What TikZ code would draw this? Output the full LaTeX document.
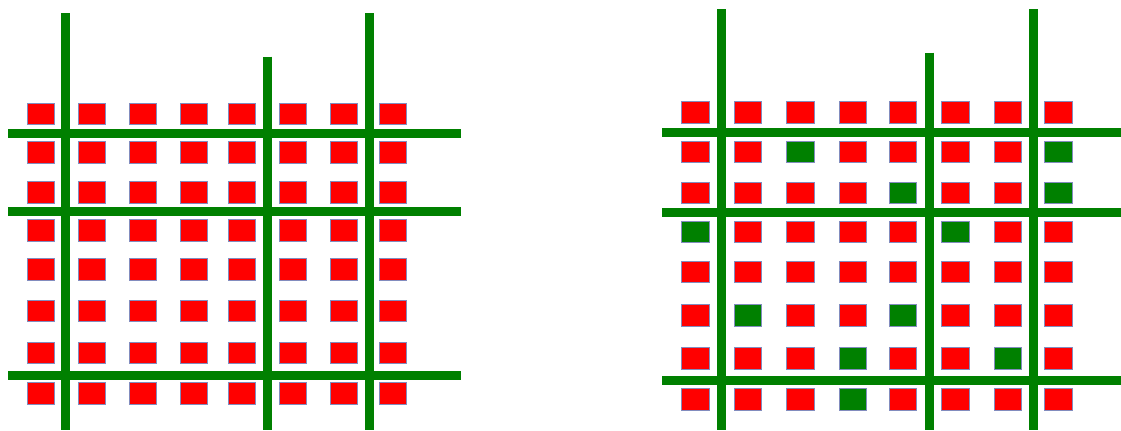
\documentclass[tikz,border=0pt]{standalone}
\usepackage{tikz}
\definecolor{cellred}{RGB}{255,0,0}
\definecolor{wiregreen}{RGB}{0,128,0}
\definecolor{celledge}{RGB}{130,140,190}

\begin{document}
\begin{tikzpicture}[x=0.02cm, y=-0.02cm,
  cell/.style={draw=celledge, line width=0.4pt},
  wire/.style={wiregreen, line width=0.18cm}]
  \useasboundingbox (0,0) rectangle (1121,430);
  % Left array
  \foreach \y in {114,152.5,192.5,230.5,269.5,311,353,393.5}{
    \foreach \x in {40.7,91.7,142.7,193.7,242,293,344,393}{
      \draw[cell,fill=cellred] (\x-13.4,\y-10.8) rectangle (\x+13.4,\y+10.8);
    }
  }
  \foreach \x/\t in {65.5/13,267.5/56.5,369/13}{
    \draw[wire] (\x,\t) -- (\x,430);
  }
  \foreach \y in {133.5,211.5,375}{
    \draw[wire] (8,\y) -- (461,\y);
  }
  % Right array
  \foreach \y in {112.5,152,193,232,272,315.5,358.3,399.5}{
    \foreach \x in {695.5,748,800.5,853,903,955.5,1008,1058.5}{
      \draw[cell,fill=cellred] (\x-13.8,\y-10.8) rectangle (\x+13.8,\y+10.8);
    }
  }
  % Green cells
  \foreach \x/\y in {800.5/152,1058.5/152,903/193,1058.5/193,695.5/232,955.5/232,
                     748/315.5,903/315.5,853/358.3,1008/358.3,853/399.5}{
    \draw[cell,fill=wiregreen] (\x-13.8,\y-10.8) rectangle (\x+13.8,\y+10.8);
  }
  \foreach \x/\t in {721/9,929/52.5,1033/9}{
    \draw[wire] (\x,\t) -- (\x,430);
  }
  \foreach \y in {132.5,212.8,380}{
    \draw[wire] (662,\y) -- (1121,\y);
  }
\end{tikzpicture}
\end{document}
